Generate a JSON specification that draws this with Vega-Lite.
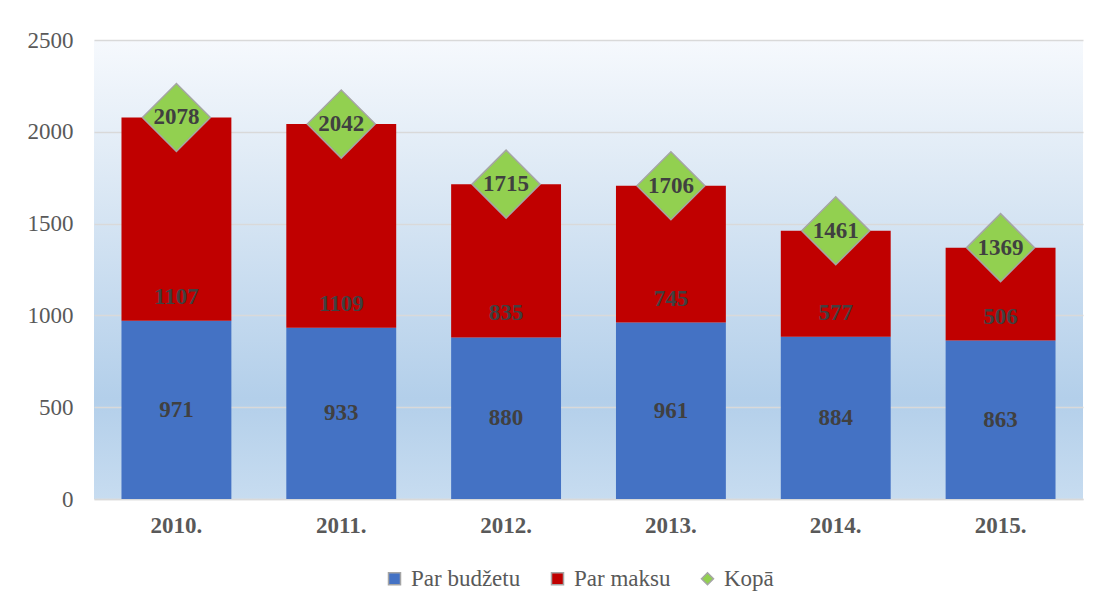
{
  "$schema": "https://vega.github.io/schema/vega-lite/v6.json",
  "width": 989,
  "height": 459,
  "autosize": {"type": "none"},
  "padding": {"left": 94, "top": 40, "right": 31, "bottom": 114},
  "background": "white",
  "config": {
    "font": "Liberation Serif",
    "view": {
      "stroke": null,
      "fill": {
        "gradient": "linear",
        "x1": 0, "y1": 0, "x2": 0, "y2": 1,
        "stops": [
          {"offset": 0, "color": "#f6f9fd"},
          {"offset": 0.3, "color": "#dde9f5"},
          {"offset": 0.78, "color": "#b3cfea"},
          {"offset": 1, "color": "#c7dcf0"}
        ]
      }
    },
    "legend": {
      "orient": "none",
      "legendX": 289,
      "legendY": 527,
      "direction": "horizontal",
      "labelFont": "Liberation Serif",
      "labelFontSize": 23,
      "labelColor": "#595959",
      "symbolSize": 144,
      "padding": 0,
      "columnPadding": 25,
      "labelOffset": 5,
      "title": null
    },
    "text": {"font": "Liberation Serif", "fontSize": 23, "fontWeight": "bold", "color": "#404040", "baseline": "middle", "align": "center"}
  },
  "data": {
    "values": [
      {"year": "2010.", "Par budžetu": 971, "Par maksu": 1107, "Kopā": 2078},
      {"year": "2011.", "Par budžetu": 933, "Par maksu": 1109, "Kopā": 2042},
      {"year": "2012.", "Par budžetu": 880, "Par maksu": 835, "Kopā": 1715},
      {"year": "2013.", "Par budžetu": 961, "Par maksu": 745, "Kopā": 1706},
      {"year": "2014.", "Par budžetu": 884, "Par maksu": 577, "Kopā": 1461},
      {"year": "2015.", "Par budžetu": 863, "Par maksu": 506, "Kopā": 1369}
    ]
  },
  "encoding": {
    "x": {
      "field": "year",
      "type": "ordinal",
      "scale": {"paddingInner": 0.3333, "paddingOuter": 0.1667},
      "axis": {
        "title": null,
        "labelAngle": 0,
        "labelFont": "Liberation Serif",
        "labelFontSize": 23,
        "labelFontWeight": "bold",
        "labelColor": "#595959",
        "labelPadding": 15,
        "ticks": false,
        "domainColor": "#d9d9d9",
        "domainWidth": 1.5,
        "grid": false
      }
    }
  },
  "layer": [
    {
      "layer": [
        {
          "transform": [{"fold": ["Par budžetu", "Par maksu"], "as": ["key", "value"]}],
          "mark": {"type": "bar"},
          "encoding": {
            "y": {
              "field": "value",
              "type": "quantitative",
              "stack": "zero",
              "scale": {"domain": [0, 2500], "nice": false},
              "axis": {
                "title": null,
                "values": [0, 500, 1000, 1500, 2000, 2500],
                "format": "d",
                "domain": false,
                "ticks": false,
                "grid": true,
                "gridColor": "#d9d9d9",
                "gridWidth": 1.5,
                "labelFont": "Liberation Serif",
                "labelFontSize": 23,
                "labelColor": "#595959",
                "labelPadding": 21
              }
            },
            "color": {
              "field": "key",
              "type": "nominal",
              "scale": {"domain": ["Par budžetu", "Par maksu", "Kopā"], "range": ["#4472c4", "#c00000", "#92d050"]},
              "legend": {"title": null}
            },
            "order": {"field": "key", "sort": "ascending"}
          }
        },
        {
          "mark": {"type": "text", "dy": -24},
          "encoding": {
            "y": {"field": "Par budžetu", "type": "quantitative", "scale": {"domain": [0, 2500], "nice": false}},
            "text": {"field": "Par maksu", "type": "quantitative"}
          }
        },
        {
          "mark": {"type": "point", "filled": true, "size": 4624, "stroke": "#a5a5a5", "strokeWidth": 1.5, "opacity": 1},
          "encoding": {
            "y": {"field": "Kopā", "type": "quantitative", "scale": {"domain": [0, 2500], "nice": false}},
            "color": {"datum": "Kopā", "type": "nominal"},
            "shape": {
              "datum": "Kopā",
              "type": "nominal",
              "scale": {"domain": ["Par budžetu", "Par maksu", "Kopā"], "range": ["square", "square", "diamond"]},
              "legend": {"title": null}
            }
          }
        },
        {
          "mark": {"type": "text"},
          "encoding": {
            "y": {"field": "Kopā", "type": "quantitative", "scale": {"domain": [0, 2500], "nice": false}},
            "text": {"field": "Kopā", "type": "quantitative"}
          }
        }
      ]
    },
    {
      "mark": {"type": "text"},
      "encoding": {
        "y": {"field": "Par budžetu", "type": "quantitative", "scale": {"domain": [0, 5000], "nice": false}, "axis": null},
        "text": {"field": "Par budžetu", "type": "quantitative"}
      }
    }
  ],
  "resolve": {"scale": {"y": "independent"}}
}
